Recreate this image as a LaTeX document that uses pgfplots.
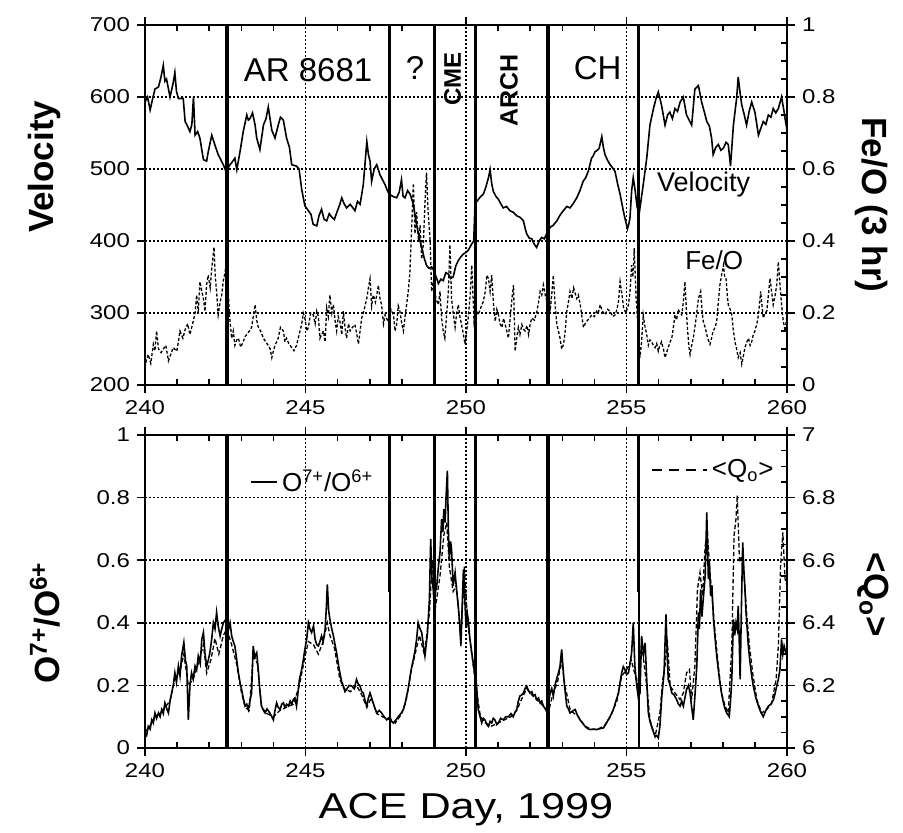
\documentclass[border=0pt]{standalone}
\usepackage{pgfplots}
\pgfplotsset{compat=1.18}
\usepackage{fontspec}
\setmainfont{Liberation Sans}
\newfontfamily\tickfont{Liberation Sans}[FakeStretch=1.2]
\tikzset{lab/.style={font=\bfseries\fontsize{17.5}{20}\selectfont}}
\pgfplotsset{
 panel/.style={
  scale only axis, width=321pt, xmin=240, xmax=260,
  xtick={240,245,250,255,260},
  minor xtick={241,242,243,244,246,247,248,249,251,252,253,254,256,257,258,259},
  tick align=outside, major tick length=4pt, minor tick length=-3pt,
  tick style={black, line width=0.8pt},
  axis line style={line width=1pt},
  /pgf/number format/assume math mode=true,
  tick label style={font=\tickfont\fontsize{10}{12}\selectfont},
 },
 vline/.style={black, line width=1.7pt, forget plot},
 gridl/.style={black, line width=0.75pt, dash pattern=on 0.8pt off 1.2pt, forget plot},
}
\begin{document}
\begin{tikzpicture}
\path[use as bounding box] (0,0) rectangle (451.5pt,416pt);
% ---------------- top panel: velocity ----------------
\begin{axis}[panel, at={(72.5pt,223.5pt)}, anchor=south west, height=180pt,
  xmajorgrids=true, ymajorgrids=true,
  major grid style={black, line width=0.75pt, dash pattern=on 0.8pt off 1.2pt},
  ymin=200, ymax=700, ytick={200,300,400,500,600,700}, ytick pos=left,
  ylabel={Velocity}, ylabel style={lab, at={(axis description cs:-0.156,0.606)}, anchor=center}]
\addplot[black, line width=0.8pt] coordinates {
(240.00,593)(240.08,600)(240.16,582)(240.24,598)(240.31,611)(240.42,614)(240.50,628)(240.57,644)(240.62,622)(240.67,625)(240.78,600)(240.84,612)(240.88,620)(240.93,634)(240.98,608)(241.04,598)(241.19,598)(241.25,566)(241.32,560)(241.40,552)(241.46,562)(241.51,600)(241.56,547)(241.64,552)(241.71,543)(241.82,513)(241.92,511)(241.97,524)(242.08,547)(242.18,533)(242.28,520)(242.44,506)(242.52,497)(242.58,501)(242.65,506)(242.72,510)(242.80,515)(242.86,499)(242.96,524)(243.06,552)(243.17,575)(243.22,568)(243.27,570)(243.35,578)(243.43,561)(243.48,543)(243.58,527)(243.69,561)(243.77,570)(243.84,586)(243.95,554)(244.05,543)(244.15,561)(244.22,572)(244.31,568)(244.41,543)(244.50,530)(244.57,506)(244.72,504)(244.80,500)(244.88,472)(244.98,449)(245.09,442)(245.17,437)(245.24,423)(245.35,421)(245.42,435)(245.50,444)(245.58,430)(245.66,428)(245.74,438)(245.82,433)(245.90,430)(245.97,439)(246.07,451)(246.13,460)(246.20,452)(246.28,446)(246.39,451)(246.46,447)(246.54,442)(246.62,455)(246.70,451)(246.80,478)(246.91,538)(246.96,520)(247.01,511)(247.06,483)(247.14,500)(247.22,506)(247.32,492)(247.40,485)(247.48,478)(247.55,470)(247.61,465)(247.72,462)(247.84,460)(247.92,468)(247.99,485)(248.04,462)(248.10,460)(248.18,470)(248.26,465)(248.36,451)(248.46,423)(248.54,405)(248.62,391)(248.70,376)(248.77,366)(248.85,362)(248.93,364)(249.00,359)(249.07,350)(249.14,341)(249.22,347)(249.29,345)(249.37,356)(249.45,354)(249.52,348)(249.60,350)(249.68,365)(249.76,373)(249.84,378)(249.92,382)(250.00,384)(250.07,387)(250.13,392)(250.18,396)(250.24,400)(250.28,451)(250.34,455)(250.39,458)(250.46,462)(250.54,465)(250.62,475)(250.70,488)(250.75,499)(250.80,480)(250.85,469)(250.93,462)(251.01,458)(251.08,452)(251.16,446)(251.26,448)(251.37,442)(251.47,440)(251.58,435)(251.68,433)(251.79,428)(251.84,418)(251.89,410)(251.97,404)(252.05,403)(252.12,396)(252.20,391)(252.28,400)(252.36,405)(252.44,403)(252.51,410)(252.62,419)(252.72,422)(252.83,428)(252.93,436)(253.03,442)(253.14,448)(253.24,446)(253.34,452)(253.45,460)(253.55,470)(253.65,483)(253.73,488)(253.81,497)(253.91,515)(253.96,518)(254.02,524)(254.09,526)(254.15,529)(254.23,545)(254.28,530)(254.33,520)(254.41,512)(254.49,506)(254.56,502)(254.64,497)(254.72,480)(254.80,465)(254.90,442)(254.96,430)(255.03,417)(255.08,425)(255.11,433)(255.16,470)(255.21,488)(255.27,470)(255.32,451)(255.37,460)(255.42,446)(255.52,478)(255.63,515)(255.73,561)(255.84,584)(255.92,598)(255.99,607)(256.09,589)(256.20,561)(256.28,575)(256.35,579)(256.43,570)(256.51,584)(256.59,580)(256.67,593)(256.77,600)(256.87,575)(256.95,568)(257.03,561)(257.13,611)(257.24,616)(257.34,593)(257.42,580)(257.50,566)(257.58,560)(257.65,543)(257.70,520)(257.78,530)(257.86,534)(257.94,526)(258.02,529)(258.10,537)(258.17,534)(258.24,504)(258.33,561)(258.43,598)(258.48,628)(258.54,605)(258.59,589)(258.67,575)(258.74,561)(258.82,580)(258.90,593)(259.00,579)(259.11,547)(259.18,556)(259.26,566)(259.34,562)(259.42,575)(259.50,572)(259.57,584)(259.65,578)(259.73,584)(259.83,600)(259.90,582)(259.94,570)(260.00,554)
};
\addplot[vline] coordinates {(242.55,200)(242.55,700)};
\addplot[vline] coordinates {(247.62,200)(247.62,700)};
\addplot[vline] coordinates {(249.02,200)(249.02,700)};
\addplot[vline] coordinates {(250.30,200)(250.30,700)};
\addplot[vline] coordinates {(252.56,200)(252.56,700)};
\addplot[vline] coordinates {(255.38,200)(255.38,700)};
\node[font=\fontsize{16.5}{19}\selectfont] at (axis cs:245.08,637) {AR 8681};
\node[font=\fontsize{16.5}{19}\selectfont] at (axis cs:248.41,640) {?};
\node[font=\fontsize{16.5}{19}\selectfont] at (axis cs:254.10,640) {CH};
\node[font=\bfseries\fontsize{12}{14}\selectfont, rotate=90] at (axis cs:249.58,625) {CME};
\node[font=\bfseries\fontsize{12.5}{14}\selectfont, rotate=90] at (axis cs:251.34,609) {ARCH};
\node[font=\fontsize{13.5}{16}\selectfont] at (axis cs:257.40,479) {Velocity};
\end{axis}
% ---------------- top panel: Fe/O ----------------
\begin{axis}[panel, at={(72.5pt,223.5pt)}, anchor=south west, height=180pt,
  ymin=0, ymax=1, axis x line=none, axis y line*=right, ytick pos=right,
  ytick={0,0.2,0.4,0.6,0.8,1},
  minor ytick={0.05,0.1,0.15,0.25,0.3,0.35,0.45,0.5,0.55,0.65,0.7,0.75,0.85,0.9,0.95},
  ylabel={Fe/O (3 hr)}, ylabel style={lab, at={(axis description cs:1.132,0.5)}, anchor=center, rotate=180}]
\addplot[black, line width=0.65pt, dash pattern=on 1.5pt off 1pt] coordinates {
(240.00,0.049)(240.05,0.070)(240.10,0.085)(240.18,0.060)(240.26,0.113)(240.31,0.095)(240.36,0.150)(240.42,0.100)(240.50,0.090)(240.57,0.100)(240.65,0.110)(240.73,0.067)(240.80,0.085)(240.88,0.104)(240.99,0.094)(241.04,0.120)(241.09,0.150)(241.18,0.130)(241.25,0.154)(241.33,0.170)(241.40,0.140)(241.51,0.180)(241.56,0.200)(241.61,0.250)(241.66,0.200)(241.71,0.287)(241.77,0.260)(241.82,0.240)(241.87,0.205)(241.92,0.280)(241.97,0.305)(242.03,0.270)(242.08,0.324)(242.15,0.383)(242.19,0.300)(242.23,0.260)(242.28,0.195)(242.34,0.230)(242.39,0.250)(242.44,0.290)(242.49,0.310)(242.56,0.360)(242.60,0.250)(242.63,0.195)(242.70,0.130)(242.75,0.150)(242.80,0.110)(242.86,0.125)(242.91,0.130)(242.98,0.105)(243.06,0.120)(243.12,0.135)(243.17,0.140)(243.25,0.150)(243.32,0.160)(243.38,0.195)(243.43,0.223)(243.48,0.180)(243.53,0.160)(243.60,0.150)(243.69,0.130)(243.76,0.120)(243.84,0.110)(243.90,0.100)(243.95,0.076)(244.00,0.095)(244.05,0.110)(244.10,0.120)(244.15,0.130)(244.22,0.160)(244.31,0.150)(244.36,0.120)(244.41,0.130)(244.48,0.115)(244.57,0.104)(244.64,0.095)(244.72,0.110)(244.80,0.140)(244.88,0.168)(244.93,0.200)(244.98,0.186)(245.04,0.150)(245.09,0.160)(245.16,0.200)(245.24,0.195)(245.30,0.170)(245.35,0.205)(245.40,0.190)(245.45,0.130)(245.50,0.140)(245.56,0.150)(245.61,0.120)(245.66,0.214)(245.71,0.190)(245.76,0.250)(245.82,0.200)(245.87,0.223)(245.92,0.180)(245.97,0.150)(246.02,0.190)(246.07,0.177)(246.13,0.140)(246.18,0.205)(246.23,0.160)(246.28,0.130)(246.34,0.170)(246.39,0.150)(246.46,0.160)(246.54,0.168)(246.60,0.140)(246.65,0.114)(246.70,0.150)(246.75,0.186)(246.83,0.210)(246.91,0.241)(246.96,0.270)(247.01,0.295)(247.06,0.220)(247.11,0.250)(247.18,0.230)(247.27,0.277)(247.32,0.240)(247.37,0.223)(247.43,0.170)(247.48,0.195)(247.55,0.180)(247.61,0.168)(247.66,0.210)(247.74,0.195)(247.79,0.150)(247.84,0.168)(247.89,0.220)(247.94,0.205)(248.00,0.170)(248.05,0.150)(248.10,0.190)(248.15,0.223)(248.20,0.260)(248.25,0.310)(248.31,0.443)(248.36,0.560)(248.41,0.420)(248.46,0.480)(248.52,0.400)(248.57,0.443)(248.62,0.350)(248.67,0.390)(248.72,0.500)(248.77,0.590)(248.82,0.480)(248.88,0.406)(248.93,0.260)(249.00,0.296)(249.06,0.240)(249.14,0.223)(249.19,0.260)(249.24,0.186)(249.29,0.150)(249.34,0.130)(249.40,0.200)(249.45,0.260)(249.50,0.390)(249.55,0.240)(249.60,0.200)(249.66,0.160)(249.71,0.200)(249.76,0.223)(249.81,0.190)(249.86,0.168)(249.92,0.140)(249.97,0.113)(250.02,0.150)(250.07,0.186)(250.13,0.250)(250.18,0.333)(250.25,0.177)(250.31,0.210)(250.38,0.195)(250.46,0.215)(250.54,0.232)(250.60,0.260)(250.65,0.305)(250.70,0.296)(250.75,0.260)(250.80,0.305)(250.86,0.220)(250.91,0.177)(250.96,0.210)(251.01,0.195)(251.06,0.170)(251.12,0.160)(251.17,0.185)(251.22,0.168)(251.27,0.150)(251.32,0.130)(251.38,0.190)(251.43,0.240)(251.48,0.278)(251.53,0.094)(251.58,0.130)(251.63,0.160)(251.68,0.140)(251.74,0.168)(251.79,0.155)(251.84,0.150)(251.90,0.165)(251.95,0.140)(252.00,0.170)(252.05,0.186)(252.13,0.180)(252.21,0.205)(252.26,0.230)(252.31,0.260)(252.36,0.250)(252.41,0.278)(252.47,0.250)(252.52,0.232)(252.57,0.280)(252.62,0.205)(252.67,0.250)(252.72,0.305)(252.78,0.220)(252.83,0.168)(252.88,0.150)(252.93,0.130)(252.98,0.100)(253.04,0.113)(253.09,0.150)(253.14,0.205)(253.19,0.230)(253.24,0.260)(253.30,0.240)(253.35,0.270)(253.40,0.255)(253.45,0.240)(253.50,0.250)(253.56,0.223)(253.61,0.190)(253.66,0.160)(253.71,0.170)(253.76,0.177)(253.84,0.185)(253.92,0.195)(254.00,0.190)(254.07,0.205)(254.12,0.200)(254.18,0.223)(254.25,0.205)(254.33,0.195)(254.41,0.210)(254.49,0.205)(254.57,0.190)(254.65,0.195)(254.70,0.210)(254.75,0.232)(254.80,0.287)(254.86,0.250)(254.91,0.214)(254.98,0.200)(255.06,0.223)(255.11,0.260)(255.16,0.333)(255.20,0.300)(255.24,0.380)(255.30,0.240)(255.36,0.160)(255.42,0.076)(255.47,0.120)(255.52,0.195)(255.58,0.160)(255.63,0.140)(255.68,0.110)(255.73,0.125)(255.78,0.120)(255.84,0.110)(255.89,0.104)(255.94,0.115)(255.99,0.094)(256.04,0.110)(256.09,0.120)(256.15,0.100)(256.20,0.076)(256.25,0.090)(256.30,0.104)(256.36,0.120)(256.41,0.130)(256.46,0.160)(256.51,0.195)(256.56,0.180)(256.61,0.210)(256.67,0.200)(256.72,0.195)(256.77,0.230)(256.82,0.287)(256.89,0.168)(256.94,0.110)(256.98,0.085)(257.03,0.110)(257.08,0.130)(257.16,0.180)(257.24,0.240)(257.31,0.260)(257.35,0.210)(257.39,0.177)(257.45,0.160)(257.50,0.140)(257.55,0.125)(257.60,0.113)(257.65,0.130)(257.70,0.150)(257.76,0.160)(257.81,0.177)(257.86,0.230)(257.91,0.278)(257.97,0.310)(258.02,0.333)(258.06,0.300)(258.10,0.296)(258.14,0.250)(258.17,0.223)(258.23,0.210)(258.28,0.195)(258.33,0.150)(258.38,0.120)(258.43,0.100)(258.48,0.076)(258.54,0.090)(258.59,0.058)(258.64,0.080)(258.69,0.104)(258.75,0.120)(258.80,0.130)(258.85,0.110)(258.90,0.120)(258.95,0.140)(259.00,0.150)(259.06,0.170)(259.11,0.195)(259.18,0.260)(259.22,0.220)(259.26,0.186)(259.32,0.200)(259.37,0.205)(259.42,0.250)(259.47,0.296)(259.52,0.260)(259.57,0.223)(259.63,0.250)(259.68,0.278)(259.73,0.342)(259.78,0.280)(259.83,0.223)(259.88,0.180)(259.94,0.150)(260.00,0.195)
};
\node[font=\fontsize{13}{15}\selectfont] at (axis cs:257.73,0.347) {Fe/O};
\end{axis}
% ---------------- bottom panel: O7/O6 ----------------
\begin{axis}[panel, at={(72.5pt,42pt)}, anchor=south west, height=156.5pt,
  xmajorgrids=true, ymajorgrids=true,
  major grid style={black, line width=0.75pt, dash pattern=on 0.8pt off 1.2pt},
  ymin=0, ymax=1, ytick={0,0.2,0.4,0.6,0.8,1}, ytick pos=left,
  ylabel={O\textsuperscript{7+}/O\textsuperscript{6+}},
  ylabel style={lab, at={(axis description cs:-0.156,0.40)}, anchor=center},
  xlabel={ACE Day, 1999},
  xlabel style={font=\tickfont\fontsize{18}{21}\selectfont, at={(axis description cs:0.5,-0.198)}, anchor=center},
  legend style={draw=none, fill=none, at={(axis description cs:0.1636,0.85)}, anchor=west, inner sep=0pt,
    font=\fontsize{13}{15}\selectfont},
  legend image code/.code={\draw[black, line width=0.8pt] (0pt,0pt) -- (13pt,0pt);}]
\addplot[black, line width=0.8pt] coordinates {
(240.00,0.048)(240.05,0.040)(240.10,0.069)(240.16,0.060)(240.21,0.090)(240.26,0.080)(240.31,0.112)(240.36,0.095)(240.42,0.112)(240.47,0.100)(240.52,0.123)(240.57,0.110)(240.62,0.144)(240.68,0.125)(240.73,0.112)(240.78,0.150)(240.83,0.176)(240.88,0.200)(240.93,0.240)(240.98,0.210)(241.04,0.262)(241.09,0.230)(241.14,0.294)(241.21,0.337)(241.26,0.280)(241.30,0.262)(241.35,0.090)(241.40,0.200)(241.45,0.240)(241.50,0.220)(241.56,0.262)(241.61,0.250)(241.66,0.294)(241.72,0.270)(241.77,0.347)(241.82,0.369)(241.87,0.300)(241.92,0.262)(241.97,0.280)(242.02,0.304)(242.08,0.350)(242.13,0.400)(242.18,0.380)(242.23,0.433)(242.28,0.390)(242.34,0.358)(242.39,0.380)(242.44,0.400)(242.52,0.411)(242.56,0.390)(242.60,0.379)(242.65,0.400)(242.70,0.358)(242.75,0.340)(242.80,0.326)(242.86,0.280)(242.91,0.240)(242.96,0.210)(243.01,0.187)(243.06,0.160)(243.12,0.134)(243.17,0.140)(243.22,0.123)(243.27,0.150)(243.32,0.176)(243.37,0.326)(243.42,0.290)(243.48,0.304)(243.53,0.250)(243.58,0.180)(243.63,0.134)(243.69,0.120)(243.74,0.112)(243.80,0.125)(243.89,0.112)(243.95,0.100)(244.00,0.090)(244.05,0.120)(244.10,0.144)(244.15,0.130)(244.21,0.123)(244.26,0.140)(244.31,0.144)(244.36,0.130)(244.41,0.140)(244.47,0.134)(244.52,0.150)(244.57,0.140)(244.62,0.155)(244.67,0.160)(244.72,0.134)(244.77,0.180)(244.81,0.219)(244.88,0.251)(244.93,0.280)(244.98,0.315)(245.04,0.350)(245.09,0.400)(245.14,0.380)(245.19,0.369)(245.25,0.390)(245.30,0.347)(245.35,0.330)(245.40,0.326)(245.45,0.340)(245.50,0.358)(245.55,0.340)(245.61,0.379)(245.65,0.450)(245.68,0.523)(245.72,0.440)(245.76,0.411)(245.82,0.380)(245.87,0.358)(245.92,0.330)(245.97,0.304)(246.02,0.270)(246.07,0.240)(246.13,0.210)(246.18,0.198)(246.23,0.180)(246.28,0.187)(246.36,0.200)(246.44,0.198)(246.52,0.190)(246.59,0.219)(246.64,0.205)(246.70,0.198)(246.75,0.180)(246.80,0.176)(246.86,0.150)(246.91,0.134)(246.96,0.160)(247.01,0.176)(247.06,0.160)(247.11,0.144)(247.17,0.125)(247.22,0.112)(247.30,0.120)(247.37,0.112)(247.45,0.100)(247.53,0.090)(247.63,0.100)(247.68,0.085)(247.74,0.080)(247.82,0.090)(247.89,0.100)(247.97,0.110)(248.05,0.123)(248.10,0.140)(248.15,0.166)(248.20,0.190)(248.26,0.230)(248.31,0.260)(248.36,0.283)(248.41,0.310)(248.46,0.347)(248.51,0.400)(248.57,0.380)(248.62,0.369)(248.67,0.330)(248.72,0.294)(248.76,0.330)(248.80,0.369)(248.86,0.475)(248.90,0.668)(248.94,0.540)(248.98,0.507)(249.01,0.450)(249.05,0.500)(249.09,0.518)(249.14,0.580)(249.19,0.624)(249.24,0.731)(249.28,0.690)(249.31,0.763)(249.35,0.720)(249.38,0.806)(249.42,0.886)(249.45,0.700)(249.48,0.603)(249.52,0.660)(249.55,0.635)(249.60,0.518)(249.66,0.560)(249.71,0.500)(249.76,0.454)(249.80,0.400)(249.84,0.326)(249.88,0.450)(249.92,0.571)(249.96,0.480)(250.00,0.390)(250.04,0.430)(250.07,0.410)(250.12,0.350)(250.18,0.304)(250.24,0.260)(250.30,0.220)(250.33,0.198)(250.38,0.123)(250.44,0.100)(250.49,0.080)(250.54,0.095)(250.59,0.090)(250.65,0.075)(250.70,0.069)(250.75,0.085)(250.80,0.080)(250.85,0.095)(250.90,0.090)(250.96,0.075)(251.01,0.080)(251.08,0.095)(251.16,0.090)(251.24,0.100)(251.32,0.100)(251.40,0.110)(251.47,0.100)(251.53,0.115)(251.58,0.123)(251.63,0.150)(251.68,0.166)(251.74,0.170)(251.79,0.176)(251.84,0.190)(251.89,0.198)(251.94,0.185)(251.99,0.176)(252.05,0.180)(252.10,0.166)(252.15,0.170)(252.20,0.155)(252.26,0.160)(252.31,0.144)(252.36,0.150)(252.41,0.134)(252.47,0.125)(252.53,0.112)(252.58,0.150)(252.62,0.176)(252.67,0.190)(252.72,0.166)(252.77,0.200)(252.82,0.219)(252.88,0.240)(252.93,0.262)(252.98,0.315)(253.02,0.260)(253.05,0.219)(253.10,0.170)(253.14,0.134)(253.19,0.125)(253.24,0.112)(253.32,0.118)(253.40,0.123)(253.47,0.105)(253.55,0.090)(253.63,0.080)(253.71,0.069)(253.79,0.062)(253.86,0.059)(253.97,0.060)(254.07,0.059)(254.17,0.062)(254.28,0.064)(254.35,0.075)(254.43,0.090)(254.51,0.105)(254.59,0.123)(254.67,0.150)(254.75,0.176)(254.80,0.210)(254.85,0.240)(254.90,0.260)(254.95,0.251)(255.00,0.235)(255.06,0.240)(255.11,0.270)(255.16,0.304)(255.21,0.400)(255.26,0.262)(255.32,0.198)(255.37,0.160)(255.42,0.176)(255.47,0.358)(255.53,0.300)(255.58,0.336)(255.63,0.219)(255.68,0.112)(255.73,0.085)(255.78,0.069)(255.84,0.050)(255.89,0.037)(255.94,0.040)(255.99,0.032)(256.04,0.069)(256.10,0.166)(256.17,0.240)(256.23,0.427)(256.27,0.300)(256.30,0.219)(256.36,0.200)(256.41,0.176)(256.48,0.170)(256.56,0.155)(256.62,0.140)(256.67,0.134)(256.72,0.150)(256.77,0.134)(256.82,0.160)(256.87,0.187)(256.93,0.200)(256.98,0.176)(257.03,0.130)(257.08,0.090)(257.14,0.180)(257.19,0.262)(257.24,0.433)(257.27,0.380)(257.31,0.507)(257.35,0.420)(257.39,0.475)(257.45,0.550)(257.50,0.753)(257.55,0.540)(257.58,0.600)(257.62,0.486)(257.66,0.520)(257.71,0.411)(257.76,0.350)(257.81,0.294)(257.86,0.250)(257.91,0.208)(257.97,0.170)(258.02,0.144)(258.07,0.125)(258.12,0.112)(258.20,0.100)(258.24,0.150)(258.28,0.219)(258.33,0.411)(258.37,0.360)(258.41,0.400)(258.45,0.380)(258.48,0.454)(258.51,0.350)(258.54,0.219)(258.58,0.450)(258.62,0.657)(258.66,0.560)(258.69,0.507)(258.72,0.440)(258.76,0.379)(258.80,0.320)(258.85,0.272)(258.90,0.230)(258.95,0.198)(259.03,0.160)(259.11,0.134)(259.18,0.115)(259.26,0.100)(259.34,0.120)(259.42,0.134)(259.50,0.140)(259.58,0.155)(259.63,0.175)(259.68,0.198)(259.73,0.220)(259.78,0.251)(259.83,0.347)(259.87,0.300)(259.91,0.326)(259.95,0.310)(260.00,0.294)
};
\addlegendentry{O\textsuperscript{7+}/O\textsuperscript{6+}}
\addplot[vline] coordinates {(242.55,0)(242.55,1)};
\addplot[vline] coordinates {(247.62,0.5)(247.62,1)};
\addplot[black, line width=0.9pt, forget plot] coordinates {(247.62,0)(247.62,0.5)};
\addplot[vline] coordinates {(249.02,0)(249.02,1)};
\addplot[vline] coordinates {(250.30,0)(250.30,1)};
\addplot[vline] coordinates {(252.56,0)(252.56,1)};
\addplot[vline] coordinates {(255.38,0.5)(255.38,1)};
\addplot[black, line width=0.9pt, forget plot] coordinates {(255.38,0)(255.38,0.5)};
\end{axis}
% ---------------- bottom panel: <Q_O> ----------------
\begin{axis}[panel, at={(72.5pt,42pt)}, anchor=south west, height=156.5pt,
  ymin=6, ymax=7, axis x line=none, axis y line*=right, ytick pos=right,
  ytick={6,6.2,6.4,6.6,6.8,7},
  minor ytick={6.05,6.1,6.15,6.25,6.3,6.35,6.45,6.5,6.55,6.65,6.7,6.75,6.85,6.9,6.95},
  ylabel={<Q\textsubscript{o}>},
  ylabel style={lab, at={(axis description cs:1.135,0.49)}, anchor=center, rotate=180},
  legend style={draw=none, fill=none, at={(axis description cs:0.986,0.888)}, anchor=east, inner sep=0pt,
    font=\fontsize{13}{15}\selectfont},
  legend image code/.code={\draw[black, line width=0.7pt, dash pattern=on 5pt off 3.5pt] (0pt,0pt) -- (27.5pt,0pt);}]
\addplot[black, line width=0.65pt, dash pattern=on 2.2pt off 1.2pt] coordinates {
(240.00,6.05)(240.15,6.07)(240.30,6.10)(240.45,6.11)(240.62,6.13)(240.78,6.15)(240.93,6.22)(241.10,6.25)(241.21,6.30)(241.35,6.20)(241.50,6.22)(241.66,6.27)(241.82,6.33)(241.92,6.24)(242.05,6.28)(242.18,6.35)(242.30,6.30)(242.44,6.36)(242.55,6.38)(242.70,6.33)(242.85,6.27)(243.00,6.18)(243.12,6.13)(243.25,6.12)(243.37,6.30)(243.50,6.27)(243.63,6.13)(243.80,6.11)(244.00,6.10)(244.20,6.12)(244.40,6.13)(244.62,6.14)(244.81,6.20)(244.98,6.29)(245.09,6.34)(245.25,6.33)(245.40,6.30)(245.55,6.34)(245.68,6.40)(245.76,6.36)(245.90,6.32)(246.07,6.22)(246.20,6.19)(246.40,6.18)(246.59,6.20)(246.75,6.17)(246.91,6.13)(247.05,6.16)(247.22,6.11)(247.40,6.10)(247.63,6.09)(247.80,6.08)(248.00,6.11)(248.15,6.16)(248.30,6.25)(248.46,6.32)(248.55,6.36)(248.70,6.30)(248.86,6.43)(248.95,6.60)(249.05,6.45)(249.19,6.55)(249.31,6.68)(249.40,6.72)(249.48,6.58)(249.60,6.50)(249.70,6.52)(249.84,6.35)(249.95,6.58)(250.05,6.40)(250.18,6.30)(250.33,6.18)(250.45,6.10)(250.60,6.08)(250.80,6.07)(251.00,6.08)(251.20,6.09)(251.40,6.10)(251.58,6.12)(251.75,6.16)(251.89,6.19)(252.05,6.17)(252.25,6.15)(252.45,6.13)(252.58,6.12)(252.70,6.17)(252.85,6.21)(252.98,6.28)(253.08,6.20)(253.25,6.12)(253.50,6.10)(253.70,6.07)(253.90,6.06)(254.10,6.06)(254.30,6.07)(254.50,6.10)(254.70,6.15)(254.85,6.23)(255.00,6.25)(255.15,6.28)(255.25,6.24)(255.35,6.20)(255.47,6.336)(255.63,6.198)(255.73,6.090)(255.89,6.037)(256.04,6.112)(256.13,6.219)(256.20,6.262)(256.27,6.347)(256.36,6.198)(256.51,6.176)(256.67,6.155)(256.77,6.176)(256.87,6.240)(256.96,6.251)(257.03,6.155)(257.13,6.262)(257.21,6.507)(257.29,6.561)(257.37,6.486)(257.45,6.646)(257.52,6.689)(257.60,6.561)(257.68,6.465)(257.76,6.369)(257.86,6.262)(257.96,6.176)(258.07,6.134)(258.17,6.112)(258.28,6.326)(258.35,6.678)(258.41,6.732)(258.45,6.807)(258.52,6.593)(258.59,6.614)(258.66,6.561)(258.74,6.433)(258.83,6.326)(258.93,6.240)(259.06,6.155)(259.21,6.112)(259.37,6.123)(259.52,6.144)(259.66,6.219)(259.73,6.326)(259.80,6.582)(259.87,6.689)(259.94,6.540)(260.00,6.518)
};
\addlegendentry{<Q\textsubscript{o}>}
\end{axis}
\end{tikzpicture}
\end{document}
